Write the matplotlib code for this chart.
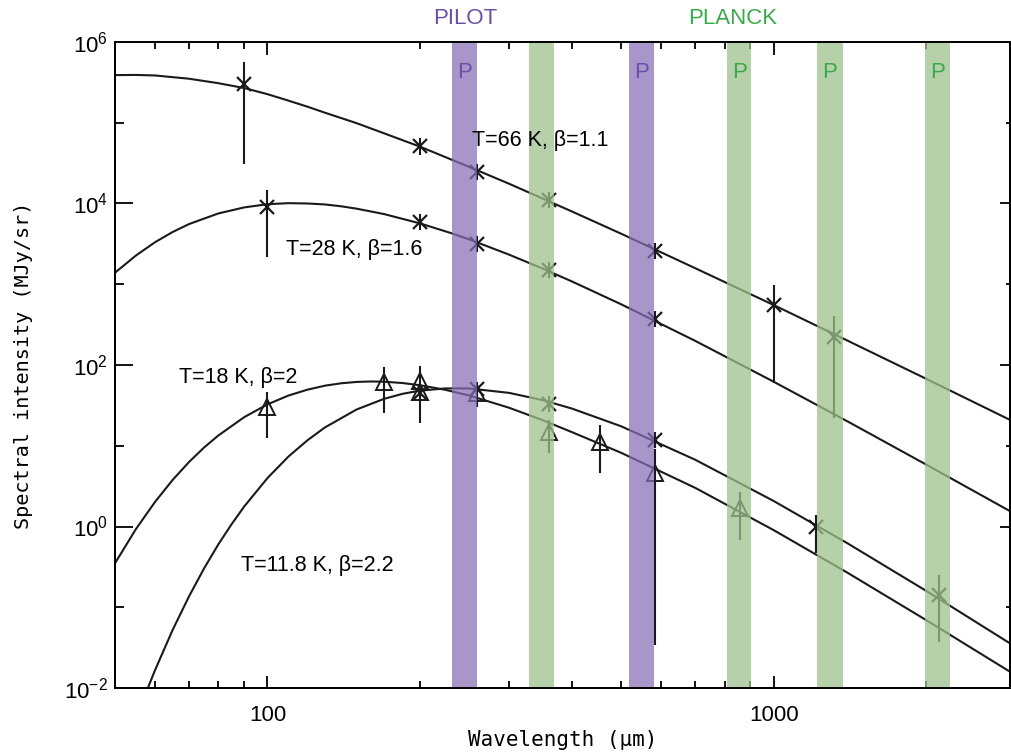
import numpy as np
import matplotlib
matplotlib.use("Agg")
import matplotlib.pyplot as plt
from matplotlib.ticker import FixedLocator, FixedFormatter, NullFormatter

plt.rcParams['font.family'] = ['Liberation Sans', 'DejaVu Sans']
plt.rcParams['mathtext.fontset'] = 'custom'
plt.rcParams['mathtext.rm'] = 'Liberation Sans'
plt.rcParams['mathtext.it'] = 'Liberation Sans:italic'

# model curves (wavelength in um, intensity in MJy/sr)
lam_66 = [50, 55, 60, 70, 80, 90, 100, 110, 120, 130, 150, 170, 200, 250, 300, 400, 500, 700,
          1000, 1400, 2000, 2930]
val_66 = [3.89e5, 3.91e5, 3.85e5, 3.51e5, 3.09e5, 2.69e5, 2.26e5, 1.88e5, 1.58e5, 1.33e5, 9.89e4,
          7.40e4, 5.07e4, 2.85e4, 1.76e4, 7.94e3, 4.22e3, 1.58e3, 553, 200, 67.6, 20.9]

lam_28 = [50, 55, 60, 65, 70, 80, 90, 100, 110, 120, 130, 140, 150, 170, 200, 230, 250, 300, 350,
          400, 500, 700, 1000, 1400, 2000, 2930]
val_28 = [1.39e3, 2.27e3, 3.32e3, 4.44e3, 5.56e3, 7.53e3, 8.95e3, 9.79e3, 1.01e4, 1.00e4, 9.73e3,
          9.23e3, 8.63e3, 7.40e3, 5.68e3, 4.32e3, 3.61e3, 2.33e3, 1.56e3, 1.08e3, 564, 199, 62.1,
          20.0, 5.86, 1.55]

lam_18 = [50, 55, 60, 65, 70, 75, 80, 90, 100, 110, 120, 130, 140, 150, 160, 170, 185, 200, 225,
          250, 300, 350, 400, 500, 700, 1000, 1400, 2000, 2930]
val_18 = [0.351, 0.931, 2.02, 3.78, 6.28, 9.53, 13.4, 22.6, 32.5, 41.8, 49.5, 55.5, 59.4, 61.7,
          62.5, 62.1, 59.8, 56.2, 49.2, 42.0, 29.6, 20.7, 14.7, 8.17, 3.01, 0.902, 0.267, 0.0695,
          0.0159]

lam_12 = [57, 60, 65, 70, 75, 80, 85, 90, 100, 110, 120, 130, 150, 170, 185, 200, 225, 250, 300,
          350, 400, 500, 700, 1000, 1400, 2000, 2930]
val_12 = [0.00747, 0.0167, 0.0525, 0.136, 0.304, 0.601, 1.07, 1.77, 3.97, 7.33, 11.7, 16.9, 28.1,
          38.1, 44.0, 48.1, 51.3, 51.3, 45.2, 36.7, 28.8, 17.4, 6.71, 2.07, 0.618, 0.160, 0.0357]

# measurements: crosses and triangles with error ranges
cross_lam = [90, 100, 200, 200, 260, 260, 360, 360, 584, 584, 1000, 1315, 200, 260, 360, 584, 1212, 2118]
cross_val = [3.0e5, 9.06e3, 5.1e4, 5.96e3, 2.46e4, 3.17e3, 1.10e4, 1.50e3, 2.58e3, 372, 553, 222,
             45, 50.5, 32.6, 11.8, 1.0, 0.142]
cross_lo = [3.08e4, 2.17e3, 4.0e4, 4.7e3, 1.95e4, 2.5e3, 8.7e3, 1.19e3, 2.05e3, 296, 59.8, 22.1,
            36, 30.2, 25.9, 9.4, 0.466, 0.0374]
cross_hi = [5.65e5, 1.47e4, 6.4e4, 7.5e3, 3.1e4, 4.0e3, 1.39e4, 1.89e3, 3.25e3, 468, 980, 405,
            57, 61.7, 41.0, 14.9, 1.39, 0.2506]

tri_lam = [100, 170, 200, 200, 260, 360, 453, 584, 858]
tri_val = [30.2, 62.1, 63.4, 46.4, 45, 14.9, 11.2, 4.56, 1.68]
tri_lo = [12.5, 25.5, 19.1, 40, 42, 8.06, 4.56, 0.034, 0.68]
tri_hi = [46.4, 95.3, 97, 53, 48, 20.8, 18.1, 9.1, 2.70]

# instrument bands (um)
pilot_lo = [232, 517]
pilot_hi = [260, 581]
planck_lo = [328, 808, 1220, 1990]
planck_hi = [369, 904, 1368, 2232]

labels = [("T=66 K, β=1.1", 254, 6.1e4), ("T=28 K, β=1.6", 109, 2.66e3),
          ("T=18 K, β=2", 67, 71), ("T=11.8 K, β=2.2", 88.8, 0.333)]

purple_band = (0.53, 0.43, 0.72, 0.72)
green_band = (0.62, 0.76, 0.55, 0.75)
purple_txt = '#6a4fa8'
green_txt = '#3aa94a'

fig = plt.figure(figsize=(10.11, 7.56), dpi=100)
ax = fig.add_axes([115 / 1011, 1 - 688 / 756, 895 / 1011, 646 / 756])
ax.set_xscale('log')
ax.set_yscale('log')
ax.set_xlim(50, 2930)
ax.set_ylim(1e-2, 1e6)

for lam, val in [(lam_66, val_66), (lam_28, val_28), (lam_18, val_18), (lam_12, val_12)]:
    ax.plot(lam, val, color='#1a1a1a', lw=1.5, zorder=2)

cv = np.array(cross_val)
ax.errorbar(cross_lam, cv, yerr=[cv - np.array(cross_lo), np.array(cross_hi) - cv],
            fmt='x', color='#1a1a1a', ms=10, mew=1.6, elinewidth=1.5, capsize=0, zorder=3)
tv = np.array(tri_val)
ax.errorbar(tri_lam, tv, yerr=[tv - np.array(tri_lo), np.array(tri_hi) - tv],
            fmt='^', color='#1a1a1a', mfc='none', ms=11, mew=1.4, elinewidth=1.5, capsize=0, zorder=3)

for lo, hi in zip(pilot_lo, pilot_hi):
    ax.axvspan(lo, hi, color=purple_band, lw=0, zorder=4)
    ax.text(np.sqrt(lo * hi), 4.25e5, 'P', color=purple_txt, fontsize=16, ha='center', va='center', zorder=5)
for i, (lo, hi) in enumerate(zip(planck_lo, planck_hi)):
    ax.axvspan(lo, hi, color=green_band, lw=0, zorder=4)
    if i > 0:
        ax.text(np.sqrt(lo * hi), 4.25e5, 'P', color=green_txt, fontsize=16, ha='center', va='center', zorder=5)

trans = ax.get_xaxis_transform()
ax.text(246, 1.037, 'PILOT', color=purple_txt, fontsize=16, ha='center', va='center', transform=trans)
ax.text(829, 1.037, 'PLANCK', color=green_txt, fontsize=16, ha='center', va='center', transform=trans)

for txt, x, y in labels:
    ax.text(x, y, txt, fontsize=15.5, ha='left', va='center', zorder=6)

# ticks
ax.xaxis.set_major_locator(FixedLocator([100, 1000]))
ax.xaxis.set_major_formatter(FixedFormatter(['100', '1000']))
xminor = [60, 70, 80, 90, 200, 300, 400, 500, 600, 700, 800, 900, 2000]
ax.xaxis.set_minor_locator(FixedLocator(xminor))
ax.xaxis.set_minor_formatter(NullFormatter())
yticks = [1e-2, 1, 1e2, 1e4, 1e6]
yminor = [1e-1, 1e1, 1e3, 1e5]
ax.yaxis.set_major_locator(FixedLocator(yticks))
ax.yaxis.set_major_formatter(FixedFormatter([r'$\mathregular{10^{-2}}$', r'$\mathregular{10^{0}}$',
                                             r'$\mathregular{10^{2}}$', r'$\mathregular{10^{4}}$',
                                             r'$\mathregular{10^{6}}$']))
ax.yaxis.set_minor_locator(FixedLocator(yminor))
ax.yaxis.set_minor_formatter(NullFormatter())

ax.tick_params(axis='x', which='major', direction='in', length=9, width=1.3, top=True,
               labelsize=16, pad=12)
ax.tick_params(axis='x', which='minor', direction='in', length=5, width=1.3, top=True)
ax.tick_params(axis='y', which='major', direction='in', length=13, width=1.3, right=False,
               labelsize=16, pad=5)
ax.tick_params(axis='y', which='minor', direction='in', length=6.5, width=1.3, right=False)
for s in ax.spines.values():
    s.set_linewidth(1.4)

# shorter ticks on the right side
ax2 = ax.twinx()
ax2.set_yscale('log')
ax2.set_ylim(ax.get_ylim())
ax2.yaxis.set_major_locator(FixedLocator(yticks))
ax2.yaxis.set_minor_locator(FixedLocator(yminor))
ax2.yaxis.set_major_formatter(NullFormatter())
ax2.yaxis.set_minor_formatter(NullFormatter())
ax2.tick_params(axis='y', which='major', direction='in', length=7.5, width=1.3)
ax2.tick_params(axis='y', which='minor', direction='in', length=3, width=1.3)
for s in ax2.spines.values():
    s.set_linewidth(1.4)

ax.set_xlabel('Wavelength (μm)', family='DejaVu Sans Mono', fontsize=15)
ax.set_ylabel('Spectral intensity (MJy/sr)', family='DejaVu Sans Mono', fontsize=14.5)
ax.xaxis.set_label_coords(0.5, -0.065)
ax.yaxis.set_label_coords(-0.092, 0.5)

fig.savefig('out.png', dpi=100)
